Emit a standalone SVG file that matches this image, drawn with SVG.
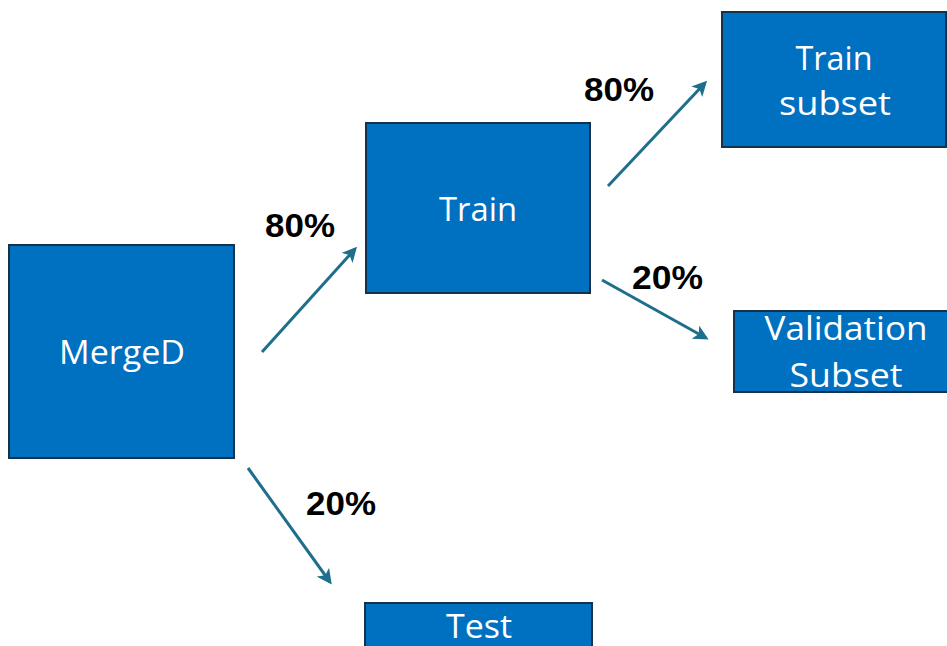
<svg xmlns="http://www.w3.org/2000/svg" width="947" height="646" viewBox="0 0 947 646">
  <defs>
    <style>
      .box { fill: #0070C0; stroke: #16324a; stroke-width: 2; }
      .lbl { fill: #ffffff; font-family: "Open Sans", "Noto Sans", "DejaVu Sans", sans-serif; font-size: 32px; text-anchor: middle; }
      .pct { fill: #000000; font-family: "Liberation Sans", Arial, sans-serif; font-weight: bold; font-size: 34px; }
      .edge { stroke: #1F6E8C; stroke-width: 3; fill: none; marker-end: url(#arrow); }
    </style>
    <marker id="arrow" viewBox="0 0 10 10" refX="8" refY="5" markerWidth="5" markerHeight="5" orient="auto" markerUnits="strokeWidth">
      <path d="M0,0 L10,5 L0,10 L2.5,5 z" fill="#1F6E8C"/>
    </marker>
  </defs>
  <rect width="947" height="646" fill="#ffffff"/>

  <g id="node-merged">
    <rect class="box" x="9" y="245" width="225" height="213"/>
    <text class="lbl" x="122" y="364" textLength="126" lengthAdjust="spacingAndGlyphs">MergeD</text>
  </g>

  <g id="node-train">
    <rect class="box" x="366" y="123" width="224" height="170"/>
    <text class="lbl" x="478" y="221" textLength="78" lengthAdjust="spacingAndGlyphs">Train</text>
  </g>

  <g id="node-train-subset">
    <rect class="box" x="722" y="12" width="224" height="135"/>
    <text class="lbl" x="834" y="70" textLength="77" lengthAdjust="spacingAndGlyphs">Train</text>
    <text class="lbl" x="835" y="115" textLength="112" lengthAdjust="spacingAndGlyphs">subset</text>
  </g>

  <g id="node-validation-subset">
    <rect class="box" x="734" y="311" width="220" height="81"/>
    <text class="lbl" x="846" y="340" textLength="163" lengthAdjust="spacingAndGlyphs">Validation</text>
    <text class="lbl" x="846" y="387" textLength="113" lengthAdjust="spacingAndGlyphs">Subset</text>
  </g>

  <g id="node-test">
    <rect class="box" x="365" y="603" width="227" height="60"/>
    <text class="lbl" x="479" y="638" textLength="66" lengthAdjust="spacingAndGlyphs">Test</text>
  </g>

  <g id="connectors">
    <line class="edge" x1="262" y1="352" x2="355" y2="249"/>
    <line class="edge" x1="608" y1="186" x2="705" y2="83"/>
    <line class="edge" x1="602" y1="280" x2="706" y2="338"/>
    <line class="edge" x1="248" y1="468" x2="330" y2="582"/>
    <text class="pct" x="265" y="237" textLength="70" lengthAdjust="spacingAndGlyphs">80%</text>
    <text class="pct" x="584" y="101" textLength="70" lengthAdjust="spacingAndGlyphs">80%</text>
    <text class="pct" x="632" y="289" textLength="71" lengthAdjust="spacingAndGlyphs">20%</text>
    <text class="pct" x="306" y="515" textLength="70" lengthAdjust="spacingAndGlyphs">20%</text>
  </g>
</svg>
